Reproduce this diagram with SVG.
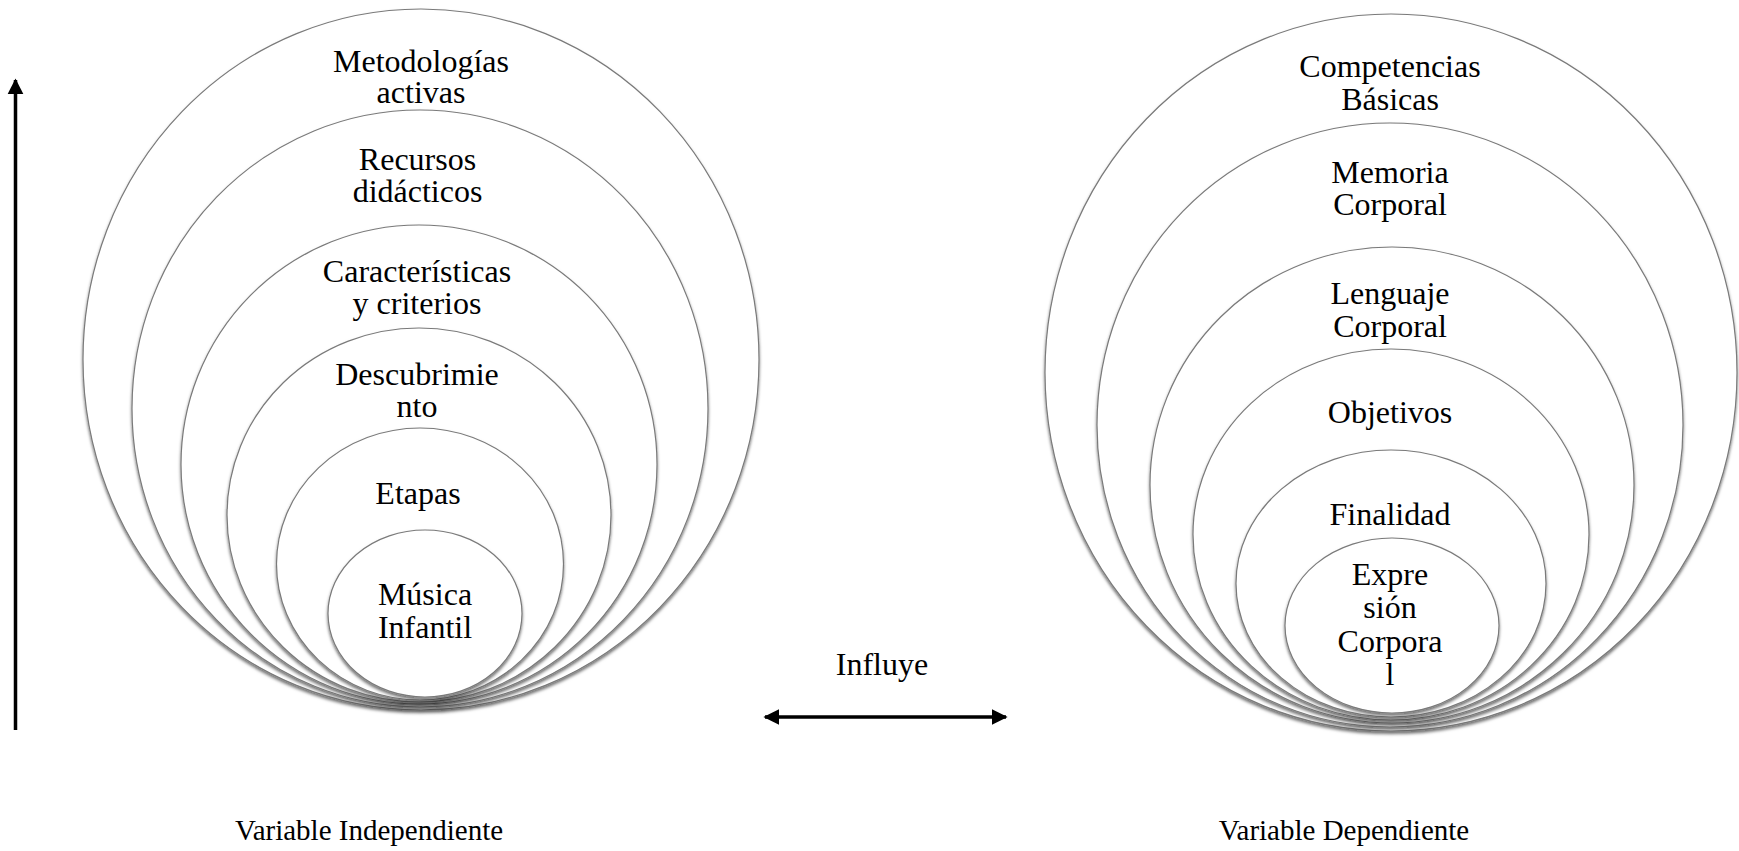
<svg xmlns="http://www.w3.org/2000/svg" width="1739" height="851" viewBox="0 0 1739 851">
<style>
.ring{fill:#ffffff;stroke:#7a7a7a;stroke-width:1.2;filter:url(#sh)}
.t{font-family:"Liberation Serif","Times New Roman",serif;font-size:32px;fill:#000;text-anchor:middle}
.v{font-size:29px}
.ln{stroke:#000;stroke-width:3.5;fill:none}
</style>
<defs>
<filter id="sh" x="-5%" y="-5%" width="110%" height="112%">
<feDropShadow dx="0" dy="2.5" stdDeviation="1.6" flood-color="#000" flood-opacity="0.55"/>
</filter>
<marker id="ah" viewBox="0 0 10 10" refX="9" refY="5" markerWidth="4.6" markerHeight="4.6" markerUnits="strokeWidth" orient="auto-start-reverse">
<path d="M0,0 L10,5 L0,10 z" fill="#000"/>
</marker>
</defs>
<rect width="1739" height="851" fill="#fff"/>
<g id="left-independiente">
<g id="n-metodologias"><ellipse class="ring" cx="421" cy="359.5" rx="338" ry="350.5"/><text class="t" x="421" y="72">Metodologías<tspan x="421" y="103">activas</tspan></text></g>
<g id="n-recursos"><ellipse class="ring" cx="420" cy="408.5" rx="288" ry="298.5"/><text class="t" x="417.5" y="170">Recursos<tspan x="417.5" y="202">didácticos</tspan></text></g>
<g id="n-caracteristicas"><ellipse class="ring" cx="419" cy="464.5" rx="238" ry="239.5"/><text class="t" x="417" y="282">Características<tspan x="417" y="314">y criterios</tspan></text></g>
<g id="n-descubrimiento"><ellipse class="ring" cx="419" cy="515" rx="192" ry="187"/><text class="t" x="417" y="385">Descubrimie<tspan x="417" y="417">nto</tspan></text></g>
<g id="n-etapas"><ellipse class="ring" cx="420" cy="564" rx="143.5" ry="136"/><text class="t" x="418" y="504">Etapas</text></g>
<g id="n-musica"><ellipse class="ring" cx="425" cy="613.5" rx="97" ry="83.5"/><text class="t" x="425" y="605">Música<tspan x="425" y="638">Infantil</tspan></text></g>
</g>
<g id="right-dependiente">
<g id="n-competencias"><ellipse class="ring" cx="1391" cy="372.5" rx="346" ry="358.5"/><text class="t" x="1390" y="77">Competencias<tspan x="1390" y="110">Básicas</tspan></text></g>
<g id="n-memoria"><ellipse class="ring" cx="1390" cy="425" rx="293" ry="302"/><text class="t" x="1390" y="183">Memoria<tspan x="1390" y="215">Corporal</tspan></text></g>
<g id="n-lenguaje"><ellipse class="ring" cx="1392" cy="485" rx="242" ry="238"/><text class="t" x="1390" y="304">Lenguaje<tspan x="1390" y="337">Corporal</tspan></text></g>
<g id="n-objetivos"><ellipse class="ring" cx="1391" cy="534.5" rx="198" ry="185.5"/><text class="t" x="1390" y="423">Objetivos</text></g>
<g id="n-finalidad"><ellipse class="ring" cx="1391" cy="583.5" rx="155" ry="133.5"/><text class="t" x="1390" y="525">Finalidad</text></g>
<g id="n-expresion"><ellipse class="ring" cx="1392" cy="625.5" rx="107" ry="87.5"/><text class="t" x="1390" y="585">Expre<tspan x="1390" y="618">sión</tspan><tspan x="1390" y="652">Corpora</tspan><tspan x="1390" y="685">l</tspan></text></g>
</g>
<g id="connectors">
<line class="ln" x1="15.5" y1="730" x2="15.5" y2="80" marker-end="url(#ah)"/>
<line class="ln" x1="765" y1="717" x2="1006" y2="717" stroke-width="3" marker-start="url(#ah)" marker-end="url(#ah)"/>
</g>
<g id="labels">
<text class="t" x="882" y="675">Influye</text>
<text class="t v" x="369" y="840">Variable Independiente</text>
<text class="t v" x="1344" y="840">Variable Dependiente</text>
</g>
</svg>
